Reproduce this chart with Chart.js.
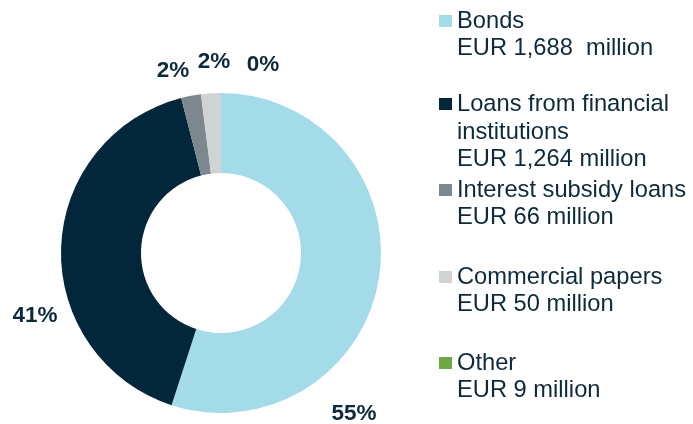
<!DOCTYPE html>
<html>
<head>
<meta charset="utf-8">
<script src="https://cdn.jsdelivr.net/npm/chart.js@4.4.0/dist/chart.umd.min.js"></script>
<style>
    html, body { margin: 0; padding: 0; background: #fff; }
    #wrap { position: relative; width: 693px; height: 424px; overflow: hidden; }
    #chartBox { position: absolute; left: 0; top: 0; width: 442px; height: 424px; }
    #legend { position: absolute; left: 439px; top: 0; width: 254px; font-family: "Liberation Sans", Arial, sans-serif; font-size: 23.7px; color: #0c2a3c; }
    .item { position: absolute; left: 0; line-height: 27.7px; }
    .item .box { position: absolute; left: 0; top: 8px; width: 13px; height: 12px; }
    .item .txt { margin-left: 18px; white-space: pre; }
</style>
</head>
<body>
<div id="wrap">
    <div id="chartBox"><canvas id="fundingChart"></canvas></div>
    <div id="legend"></div>
</div>
<script>
// chart data
const categories = ['Bonds', 'Loans from financial\ninstitutions', 'Interest subsidy loans', 'Commercial papers', 'Other'];
const amountLabels = ['EUR 1,688  million', 'EUR 1,264 million', 'EUR 66 million', 'EUR 50 million', 'EUR 9 million'];
const sharePct = [55, 41, 2, 2, 0];

const sliceColors = ['#a4dbe8', '#02263a', '#7c878e', '#d0d3d4', '#6fa843'];
const textColor = '#0c2a3c';

// where each percentage label sits (degrees clockwise from top, radius factor)
const labelAngles = [140.4, 251.3, 345.2, 357.9, 12.6];
const labelRadius = [1.305, 1.228, 1.176, 1.195, 1.204];

const pctLabels = {
    id: 'pctLabels',
    afterDatasetsDraw(chart) {
        const ctx = chart.ctx;
        const meta = chart.getDatasetMeta(0);
        const arc = meta.data[0];
        const cx = arc.x, cy = arc.y, r = arc.outerRadius;
        ctx.save();
        ctx.font = 'bold 22.5px "Liberation Sans", Arial, sans-serif';
        ctx.fillStyle = textColor;
        ctx.textAlign = 'center';
        ctx.textBaseline = 'middle';
        sharePct.forEach((v, i) => {
            const a = labelAngles[i] * Math.PI / 180;
            const x = cx + Math.sin(a) * r * labelRadius[i];
            const y = cy - Math.cos(a) * r * labelRadius[i];
            ctx.fillText(v + '%', x, y);
        });
        ctx.restore();
    }
};

function buildLegend() {
    const legend = document.getElementById('legend');
    const itemTops = [6.5, 90, 175.5, 262.5, 348.5];
    categories.forEach((name, i) => {
        const item = document.createElement('div');
        item.className = 'item';
        item.style.top = itemTops[i] + 'px';
        item.innerHTML = `<div class="box" style="background:${sliceColors[i]}"></div>` +
            `<div class="txt">${name}\n${amountLabels[i]}</div>`;
        legend.appendChild(item);
    });
}

document.addEventListener('DOMContentLoaded', () => {
    buildLegend();
    const ctx = document.getElementById('fundingChart').getContext('2d');
    window.fundingChart = new Chart(ctx, {
        type: 'doughnut',
        data: {
            labels: categories,
            datasets: [{
                data: sharePct,
                backgroundColor: sliceColors,
                borderWidth: 0
            }]
        },
        options: {
            responsive: true,
            maintainAspectRatio: false,
            animation: false,
            devicePixelRatio: 1,
            cutout: '50%',
            layout: { padding: { top: 93, bottom: 11, left: 0, right: 0 } },
            plugins: {
                legend: { display: false },
                tooltip: { enabled: false }
            }
        },
        plugins: [pctLabels]
    });
});
</script>
</body>
</html>
